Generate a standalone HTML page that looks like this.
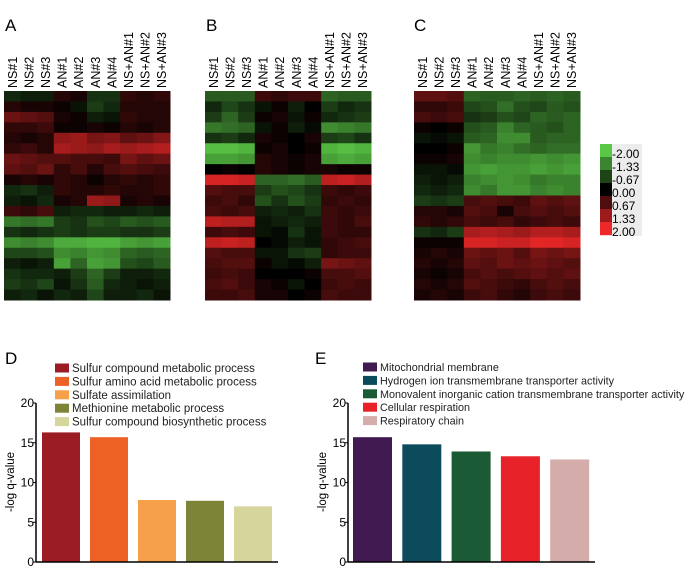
<!DOCTYPE html>
<html><head><meta charset="utf-8"><style>
body{margin:0;background:#fff;font-family:"Liberation Sans",sans-serif}
svg{display:block}
</style></head><body>
<svg id="fig" width="694" height="567" viewBox="0 0 694 567" font-family="Liberation Sans, sans-serif">
<text x="5" y="31" font-size="17">A</text>
<text x="206" y="31" font-size="17">B</text>
<text x="414" y="31" font-size="17">C</text>
<text x="5" y="364" font-size="17">D</text>
<text x="315" y="364" font-size="17">E</text>
<g id="scale"></g>
</svg>
<script>
const NS='http://www.w3.org/2000/svg';
const svg=document.getElementById('fig');
function mk(tag,attrs,parent){const e=document.createElementNS(NS,tag);for(const k in attrs)e.setAttribute(k,attrs[k]);(parent||svg).appendChild(e);return e;}

const sampleLabels=['NS#1','NS#2','NS#3','AN#1','AN#2','AN#3','AN#4','NS+AN#1','NS+AN#2','NS+AN#3'];
const heatA=[
[-0.4,-0.3,-0.3,0.3,0.2,-0.5,-0.5,0.4,0.3,0.4],
[0.3,0.2,0.2,0.1,-0.2,-0.6,-0.4,0.3,0.3,0.3],
[0.9,0.8,0.7,0.2,0.1,-0.3,-0.2,0.4,0.3,0.3],
[0.4,0.4,0.5,0.1,0.1,0.2,0.1,0.3,0.2,0.3],
[0.3,0.2,0.3,1.2,1.3,1.0,1.1,0.8,0.9,1.1],
[0.4,0.5,0.3,1.4,1.3,1.2,1.4,1.3,1.4,1.5],
[0.9,0.8,0.7,0.7,0.6,0.6,0.5,1.0,0.8,0.9],
[0.8,0.7,0.9,0.4,0.6,0.3,0.6,0.7,0.6,0.5],
[0.2,0.3,0.2,0.4,0.3,0.1,0.3,0.4,0.3,0.4],
[-0.4,-0.5,-0.3,0.4,0.3,0.3,0.4,0.3,0.3,0.4],
[-0.3,-0.2,-0.4,0.2,0.3,1.3,1.2,0.2,0.3,0.2],
[0.5,0.4,0.6,-0.3,-0.4,-0.4,-0.3,-0.3,-0.4,-0.3],
[-1.2,-1.1,-1.2,-0.6,-0.5,-0.8,-0.7,-0.9,-0.8,-0.9],
[-0.5,-0.4,-0.5,-0.6,-0.5,-0.6,-0.6,-0.5,-0.5,-0.6],
[-1.4,-1.3,-1.4,-1.7,-1.7,-1.8,-1.8,-1.6,-1.5,-1.6],
[-0.7,-0.7,-0.8,-1.4,-1.3,-1.5,-1.4,-1.0,-0.9,-1.0],
[-0.3,-0.2,-0.3,-1.6,-1.0,-1.6,-1.5,-0.8,-0.7,-0.9],
[-0.5,-0.4,-0.4,-0.3,-0.6,-1.0,-0.6,-0.3,-0.3,-0.4],
[-0.6,-0.5,-0.7,-0.2,-0.5,-0.9,-0.4,-0.3,-0.2,-0.3],
[-0.3,-0.4,-0.2,-0.4,-0.3,-0.7,-0.3,-0.3,-0.4,-0.2]];
const heatB=[
[-0.9,-0.9,-0.9,0.5,0.4,0.5,0.5,-1.0,-0.9,-0.9],
[-0.4,-0.7,-0.5,-0.2,0.1,-0.3,0.0,-0.6,-0.4,-0.5],
[-0.6,-1.0,-0.6,0.1,0.2,-0.2,0.1,-0.4,-0.5,-0.6],
[-1.2,-1.1,-1.0,-0.2,0.1,-0.3,-0.1,-1.4,-1.3,-1.2],
[-0.5,-0.6,-0.4,0.2,0.1,0.0,0.2,-0.6,-0.7,-0.5],
[-1.9,-1.9,-1.8,0.1,0.2,0.0,0.1,-1.8,-1.9,-1.8],
[-1.6,-1.6,-1.5,0.3,0.2,0.1,0.2,-1.6,-1.7,-1.6],
[0.0,0.1,0.0,0.3,0.2,0.1,0.2,0.2,0.1,0.1],
[1.8,1.8,1.7,-1.0,-1.0,-1.1,-0.9,1.6,1.7,1.5],
[0.7,0.6,0.6,-0.6,-0.8,-0.7,-0.5,0.5,0.4,0.5],
[0.5,0.6,0.4,-0.8,-0.5,-0.8,-0.6,0.4,0.5,0.4],
[0.6,0.5,0.6,-0.3,-0.4,-0.3,-0.5,0.5,0.4,0.5],
[1.6,1.5,1.5,-0.2,-0.3,-0.4,-0.3,0.5,0.4,0.6],
[0.5,0.6,0.5,-0.2,-0.1,-0.5,-0.2,0.5,0.4,0.4],
[1.6,1.7,1.6,0.0,-0.1,-0.3,-0.2,0.4,0.5,0.6],
[0.7,0.6,0.6,-0.2,-0.2,-0.5,-0.6,0.4,0.5,0.5],
[0.6,0.7,0.7,0.1,-0.2,-0.1,-0.3,1.0,0.9,0.8],
[0.5,0.6,0.5,0.0,0.0,0.0,0.1,0.6,0.6,0.7],
[0.6,0.7,0.5,0.2,0.1,-0.2,0.0,0.5,0.6,0.5],
[0.5,0.5,0.6,0.2,0.2,0.0,0.1,0.6,0.5,0.5]];
const heatC=[
[0.8,0.8,0.7,-1.0,-0.9,-0.9,-1.0,-0.9,-1.0,-0.9],
[0.4,0.4,0.5,-0.7,-0.8,-1.1,-0.8,-0.7,-0.9,-0.8],
[0.6,0.5,0.6,-0.5,-0.6,-0.8,-0.7,-1.0,-0.9,-1.0],
[0.1,0.0,0.1,-0.8,-0.9,-1.3,-1.0,-0.9,-0.8,-1.0],
[-0.2,-0.1,-0.2,-0.9,-1.0,-1.4,-1.4,-0.9,-1.0,-1.0],
[0.0,0.0,0.1,-1.5,-1.2,-1.3,-1.1,-1.0,-1.1,-1.1],
[0.1,0.1,0.2,-1.4,-1.3,-1.4,-1.4,-1.5,-1.4,-1.5],
[-0.2,-0.2,-0.1,-1.5,-1.6,-1.5,-1.5,-1.6,-1.5,-1.6],
[-0.3,-0.2,-0.3,-1.3,-1.4,-1.5,-1.4,-1.2,-1.3,-1.3],
[-0.4,-0.3,-0.4,-1.4,-1.2,-1.5,-1.5,-1.3,-1.4,-1.3],
[-0.6,-0.5,-0.6,0.6,0.7,0.6,0.5,0.8,0.7,0.8],
[0.3,0.3,0.2,0.7,0.6,0.2,0.6,0.7,0.6,0.7],
[0.4,0.3,0.4,0.6,0.5,0.6,0.4,0.5,0.6,0.5],
[-0.5,-0.4,-0.6,1.4,1.5,1.4,1.3,1.5,1.5,1.4],
[0.1,0.1,0.1,1.8,1.8,1.7,1.7,1.9,1.9,1.8],
[0.2,0.3,0.2,0.9,0.8,0.9,0.7,1.0,0.9,1.0],
[0.3,0.2,0.3,0.8,0.7,0.9,0.8,0.9,0.8,0.7],
[0.2,0.1,0.2,0.6,0.7,0.6,0.7,0.8,0.7,0.8],
[0.3,0.2,0.3,0.7,0.6,0.5,0.4,0.6,0.7,0.6],
[0.2,0.3,0.2,0.5,0.6,0.4,0.3,0.5,0.6,0.5]];

function heatColor(v){
  const t=Math.min(1,Math.abs(v)/2);
  if(v<0) return `rgb(${Math.round(90*t)},${Math.round(200*t)},${Math.round(70*t)})`;
  return `rgb(${Math.round(238*t)},${Math.round(40*t)},${Math.round(40*t)})`;
}
function drawHeat(data,x0,name){
  const y0=91,h=209,w=166;
  const g=mk('g',{});
  
  
  const cw=w/sampleLabels.length, rh=h/data.length;
  data.forEach((row,ri)=>row.forEach((v,ci)=>{
    const r=mk('rect',{x:x0+ci*cw,y:y0+ri*rh,width:cw+0.5,height:rh+0.5,fill:heatColor(v)},g);
    
    
  }));
  sampleLabels.forEach((s,ci)=>{
    const cx=x0+ci*cw+cw/2+4.5;
    const t=mk('text',{x:0,y:0,'font-size':12.5,transform:`translate(${cx},88) rotate(-90)`},g);
    t.textContent=s;
    
    
  });
}
drawHeat(heatA,4,'heatmap-a');
drawHeat(heatB,205,'heatmap-b');
drawHeat(heatC,414,'heatmap-c');

const scaleVals=[-2,-1.33,-0.67,0,0.67,1.33,2];
const scaleLabels=['-2.00','-1.33','-0.67','0.00','0.67','1.33','2.00'];
const sg=document.getElementById('scale');
mk('rect',{x:612,y:144,width:30,height:92,fill:'#ececec'},sg);
scaleVals.forEach((v,i)=>{
  const r=mk('rect',{x:600,y:144+i*13,width:12,height:13.2,fill:heatColor(v)},sg);
  
  
  const t=mk('text',{x:612,y:158+i*13,'font-size':12},sg);
  t.textContent=scaleLabels[i];
  
  
});

const dCats=['Sulfur compound metabolic process','Sulfur amino acid metabolic process','Sulfate assimilation','Methionine metabolic process','Sulfur compound biosynthetic process'];
const dVals=[16.3,15.7,7.8,7.7,7.0];
const dColors=['#9b1c22','#ee6125','#f6a14a','#7d8337','#d6d69c'];
const eCats=['Mitochondrial membrane','Hydrogen ion transmembrane transporter activity','Monovalent inorganic cation transmembrane transporter activity','Cellular respiration','Respiratory chain'];
const eVals=[15.7,14.8,13.9,13.3,12.9];
const eColors=['#411a52','#0c4b5c','#1a5b35','#e72329','#d4adaa'];
const yTicks=[0,5,10,15,20];

function drawBars(cats,vals,colors,opt,name){
  const g=mk('g',{});
  
  
  const y=v=>opt.y0-(v/20)*(opt.y0-opt.y20);
  const x=i=>opt.xa+opt.pad+i*opt.step;
  vals.forEach((v,i)=>{
    const r=mk('rect',{x:x(i),y:y(v),width:opt.bw,height:opt.y0-y(v),fill:colors[i]},g);
    
  });
  const ax=mk('line',{x1:opt.xa,y1:y(20),x2:opt.xa,y2:opt.y0,stroke:'#000','stroke-width':1.5},g);
  
  const xx=mk('line',{x1:opt.xa,y1:opt.y0,x2:opt.xend,y2:opt.y0,stroke:'#000','stroke-width':1.5},g);
  
  yTicks.forEach(v=>{
    mk('line',{x1:opt.xa-3,y1:y(v),x2:opt.xa,y2:y(v),stroke:'#000'},g);
    const t=mk('text',{x:opt.xa-2,y:y(v)+4,'font-size':12,'text-anchor':'end'},g);
    t.textContent=v;
    
  });
  const yl=mk('text',{x:0,y:0,'font-size':11.5,'text-anchor':'middle',transform:`translate(${opt.xa-22},${opt.ylc}) rotate(-90)`},g);
  yl.textContent='-log q-value';
  
  cats.forEach((c,i)=>{
    const ly=opt.ly+i*13.4;
    const s=mk('rect',{x:opt.lx,y:ly-4.5,width:14,height:9,fill:colors[i]},g);
    
    const t=mk('text',{x:opt.lx+17,y:ly+4,'font-size':opt.fs,fill:'#222'},g);
    t.textContent=c;
    
  });
}
drawBars(dCats,dVals,dColors,{xa:36,xend:278,y0:562,y20:403,pad:6,step:48,bw:38,lx:55,ly:368,fs:11.5,ylc:482},'bar-chart-d');
drawBars(eCats,eVals,eColors,{xa:348,xend:595,y0:562,y20:403,pad:5,step:49.3,bw:39,lx:363,ly:367,fs:10.8,ylc:482},'bar-chart-e');
</script>
</body></html>
